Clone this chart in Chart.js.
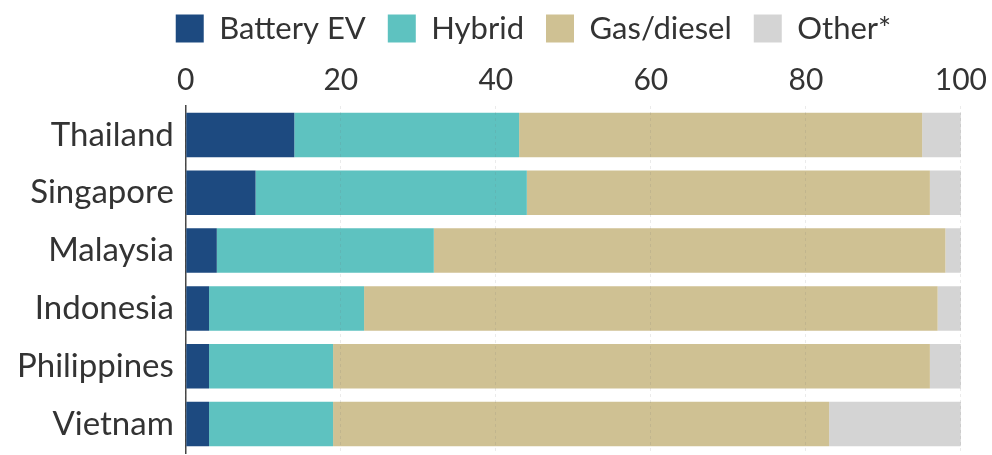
<!DOCTYPE html>
<html>
<head>
<meta charset="utf-8">
<script src="https://cdn.jsdelivr.net/npm/chart.js@4"></script>
<style>
  body { margin: 0; background: #ffffff; }
  #wrap { width: 992px; height: 455px; }
</style>
</head>
<body>
<div id="wrap"><canvas id="salesChart" width="992" height="455"></canvas></div>
<script>
const countries = ['Thailand', 'Singapore', 'Malaysia', 'Indonesia', 'Philippines', 'Vietnam'];
const batteryEV = [14, 9, 4, 3, 3, 3];
const hybrid = [29, 35, 28, 20, 16, 16];
const gasDiesel = [52, 52, 66, 74, 77, 64];
const other = [5, 4, 2, 3, 4, 17];
const xTicks = [0, 20, 40, 60, 80, 100];

const fontFamily = 'Lato, "Noto Sans", sans-serif';

const ctx = document.getElementById('salesChart').getContext('2d');

const series = [
    { label: 'Battery EV', data: batteryEV, color: '#1d4a80' },
    { label: 'Hybrid', data: hybrid, color: '#5ec2c0' },
    { label: 'Gas/diesel', data: gasDiesel, color: '#cfc193' },
    { label: 'Other*', data: other, color: '#d4d4d4' }
];

// nudge the legend row to the right so it sits over the bars
const legendShift = {
    id: 'legendShift',
    afterLayout(chart) {
        const dx = 38;
        chart.legend.left += dx;
        chart.legend.right += dx;
    }
};

new Chart(ctx, {
    type: 'bar',
    data: {
        labels: countries,
        datasets: series.map(s => ({
            label: s.label,
            data: s.data,
            backgroundColor: s.color,
            borderWidth: 0,
            barPercentage: 0.77,
            categoryPercentage: 1
        }))
    },
    plugins: [legendShift],
    options: {
        responsive: false,
        animation: false,
        indexAxis: 'y',
        layout: { padding: { left: 5, right: 6, top: -9, bottom: 2 } },
        plugins: {
            tooltip: { enabled: false },
            legend: {
                position: 'top',
                align: 'center',
                labels: {
                    boxWidth: 28,
                    boxHeight: 28,
                    padding: 22,
                    color: '#333333',
                    font: { family: fontFamily, size: 31 }
                }
            }
        },
        scales: {
            x: {
                position: 'top',
                stacked: true,
                min: 0,
                max: 100,
                afterBuildTicks: axis => { axis.ticks = xTicks.map(v => ({ value: v })); },
                ticks: {
                    color: '#333333',
                    padding: 5,
                    font: { family: fontFamily, size: 30, lineHeight: 1.4 }
                },
                grid: {
                    z: 1,
                    color: 'rgba(110, 110, 110, 0.14)',
                    drawTicks: false
                },
                border: { display: false, dash: [3, 3] }
            },
            y: {
                stacked: true,
                afterFit: scale => { scale.paddingTop = 0; scale.paddingBottom = 0; },
                ticks: {
                    color: '#333333',
                    padding: 12,
                    font: { family: fontFamily, size: 33 }
                },
                grid: { display: false, drawTicks: false },
                border: { display: true, color: '#444444', width: 1.5 }
            }
        }
    }
});
</script>
</body>
</html>
